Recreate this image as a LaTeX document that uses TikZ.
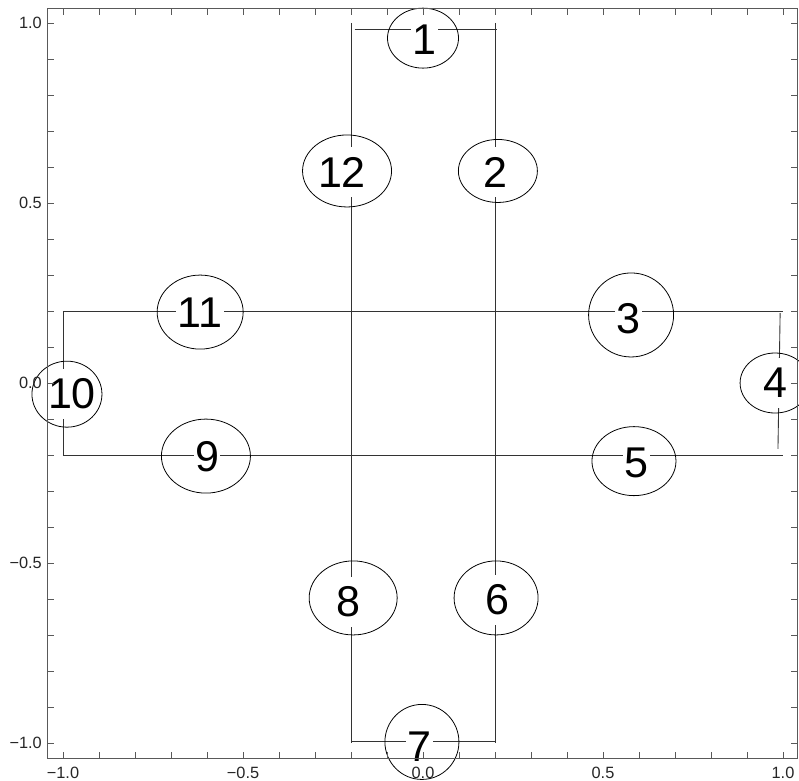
\documentclass[tikz,border=0pt]{standalone}
\usepackage{fontspec}
\setmainfont{Liberation Sans}
\usepackage{tikz}
\usetikzlibrary{shapes.geometric}

\begin{document}
\begin{tikzpicture}[x=7.2cm, y=7.2cm,
    edge/.style={draw=black!80, line width=0.5pt},
    ring/.style={draw=black, line width=0.45pt, ellipse, inner sep=0pt},
    num/.style={fill=white, inner xsep=0.03cm, inner ysep=0.2cm, font=\fontsize{24.5}{28}\selectfont},
    tick/.style={draw=black!65, line width=0.55pt},
    ticklbl/.style={inner sep=0pt, text=black!85, font=\fontsize{9.3}{11}\selectfont}]
    \useasboundingbox (-1.175,-1.1028) rectangle (1.0444,1.0639);

    % Outline of the cross
    \coordinate (vlt) at (-0.2,1);      \coordinate (vlb) at (-0.2,-1);
    \coordinate (vrt) at (0.2,1);       \coordinate (vrb) at (0.2,-1);
    \coordinate (topl) at (-0.19,0.983); \coordinate (topr) at (0.205,0.983);
    \coordinate (botl) at (-0.2,-0.997); \coordinate (botr) at (0.2,-0.997);
    \coordinate (hul) at (-1,0.2);      \coordinate (hur) at (1,0.2);
    \coordinate (hdl) at (-1,-0.2);     \coordinate (hdr) at (1,-0.2);
    \coordinate (rt) at (0.992,0.194);  \coordinate (rb) at (0.986,-0.183);

    \draw[edge] (vlt) -- (vlb);
    \draw[edge] (vrt) -- (vrb);
    \draw[edge] (topl) -- (topr);
    \draw[edge] (botl) -- (botr);
    \draw[edge] (hul) -- (hur);
    \draw[edge] (hdl) -- (hdr);
    \draw[edge] (hul) -- (hdl);
    \draw[edge] (rt) -- (rb);

    % Labels and their rings
    \foreach \n/\ex/\ey/\ew/\eh/\tx/\ty in {
        1/0/0.958/71/60/0.005/0.953,
        2/0.208/0.589/79/63/0.2/0.586,
        3/0.578/0.189/85/84/0.572/0.178,
        4/0.978/0/70/60/0.978/0,
        5/0.586/-0.217/84/69/0.594/-0.222,
        6/0.203/-0.597/84/74/0.206/-0.603,
        7/-0.003/-0.997/74/75/-0.011/-1.011,
        8/-0.194/-0.597/88/74/-0.206/-0.608,
        9/-0.603/-0.203/89/74/-0.6/-0.206,
        10/-0.989/-0.031/70/66/-0.975/-0.031,
        11/-0.619/0.197/86/74/-0.619/0.194,
        12/-0.211/0.589/89/72/-0.225/0.586} {
        \node[num] (t\n) at (\tx,\ty) {\n};
        \node[ring, minimum width=\ew*0.02cm, minimum height=\eh*0.02cm] (e\n) at (\ex,\ey) {};
    }

    % Frame and ticks
    \draw[tick] (-1.042,-1.042) rectangle (1.039,1.039);
    \foreach \i in {-10,...,10} {
        \draw[tick] (\i/10,-1.042) -- ++(0,0.017);
        \draw[tick] (\i/10,1.039) -- ++(0,-0.017);
        \draw[tick] (-1.042,\i/10) -- ++(0.017,0);
        \draw[tick] (1.039,\i/10) -- ++(-0.017,0);
    }
    \foreach \v/\s [count=\k] in {-1/−1.0, -0.5/−0.5, 0/0.0, 0.5/0.5, 1/1.0} {
        \node[ticklbl, anchor=north] (xl\k) at (\v,-1.066) {\s};
        \node[ticklbl, anchor=east] (yl\k) at (-1.058,\v) {\s};
    }
\end{tikzpicture}
\end{document}
